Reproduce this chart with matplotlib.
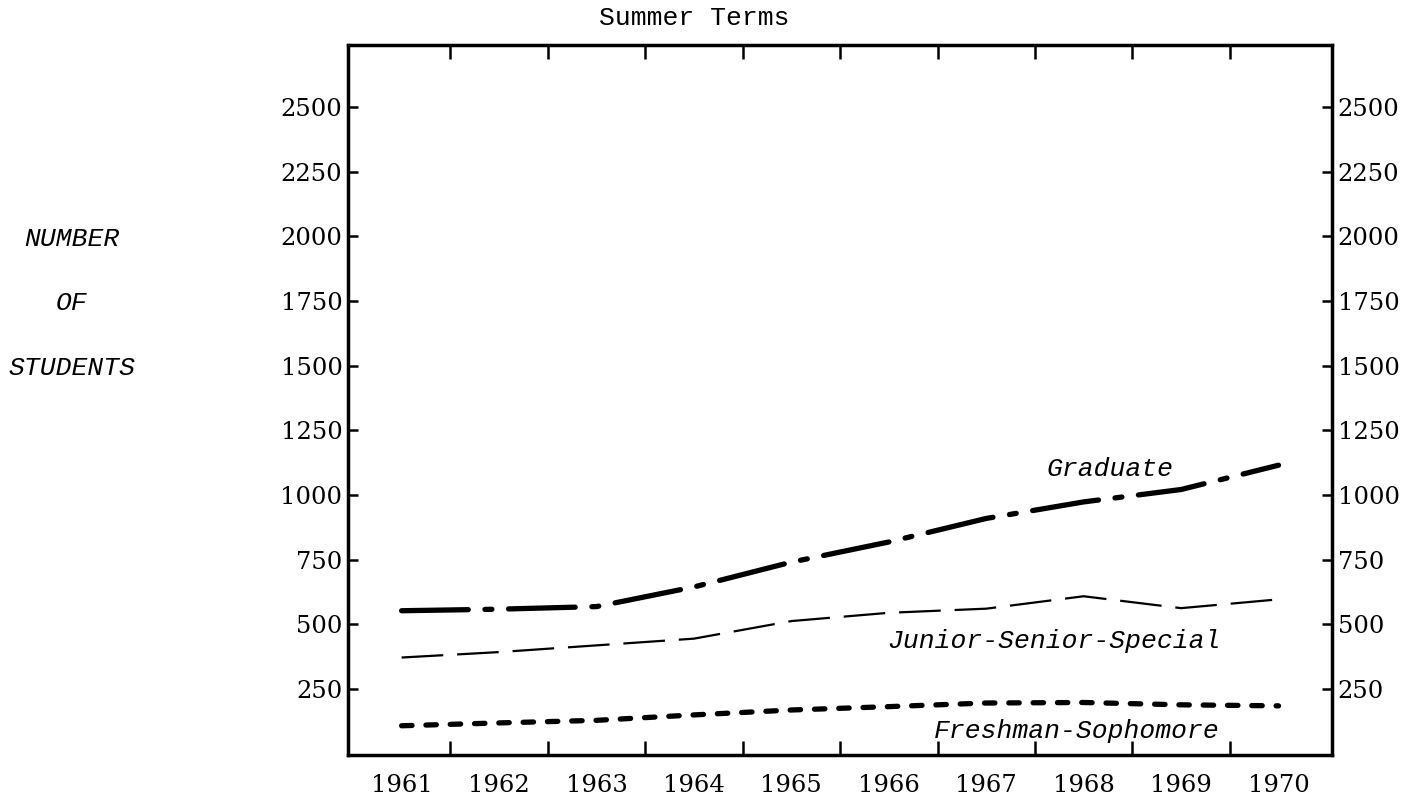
import numpy as np
import matplotlib
matplotlib.use("Agg")
import matplotlib.pyplot as plt

# values (summer term enrolment)
years = [1961, 1962, 1963, 1964, 1965, 1966, 1967, 1968, 1969, 1970]
graduate = [552, 558, 568, 644, 740, 818, 909, 973, 1021, 1115]
junior_senior = [371, 392, 418, 444, 512, 544, 560, 608, 562, 596]
freshman_soph = [107, 118, 128, 149, 168, 181, 195, 197, 188, 184]

y_ticks = [250, 500, 750, 1000, 1250, 1500, 1750, 2000, 2250, 2500]
half_years = [y + 0.5 for y in years[:-1]]

plt.rcParams['lines.scale_dashes'] = False

MONO = 'Liberation Mono'
NUM = 'DejaVu Serif'

fig = plt.figure(figsize=(14.2, 8.02), dpi=100)
ax = fig.add_axes([0.2451, 0.058, 0.693, 0.886])

# graduate: heavy dash-dot
ax.plot(years, graduate, color='black', lw=3.8, dash_capstyle='round',
        linestyle=(0, (48, 12, 5, 12)))
# junior-senior-special: thin long dashes
ax.plot(years, junior_senior, color='black', lw=1.6,
        linestyle=(0, (30, 10)))
# freshman-sophomore: heavy short dashes
ax.plot(years, freshman_soph, color='black', lw=3.8, dash_capstyle='round',
        linestyle=(0, (7.5, 10)))

ax.set_xlim(1960.45, 1970.55)
ax.set_ylim(-8, 2741)

ax.set_xticks(years)
ax.set_xticklabels([str(y) for y in years], fontfamily=NUM, fontsize=17.5)
ax.set_xticks(half_years, minor=True)
ax.tick_params(axis='x', which='major', length=0, pad=13)
ax.tick_params(axis='x', which='minor', direction='in', length=10, width=1.8,
               top=True, bottom=True)

ax.set_yticks(y_ticks)
ax.set_yticklabels([str(v) for v in y_ticks], fontfamily=NUM, fontsize=17.5)
ax.tick_params(axis='y', which='major', direction='in', length=7, width=1.8,
               left=True, right=True, labelleft=True, labelright=True, pad=4)

for sp in ax.spines.values():
    sp.set_linewidth(2.5)

# curve labels
lbl = dict(fontfamily=MONO, style='italic', fontsize=19, ha='center',
           va='baseline')
ax.text(1968.27, 1075, 'Graduate', **lbl)
ax.text(1967.69, 406, 'Junior-Senior-Special', **lbl)
ax.text(1967.93, 59, 'Freshman-Sophomore', **lbl)

# title and side label
fig.text(0.4887, 0.9688, 'Summer Terms', fontfamily=MONO, fontsize=19,
         ha='center', va='baseline')
for word, yy in [('NUMBER', 0.6933), ('OF', 0.6135), ('STUDENTS', 0.5324)]:
    fig.text(0.0507, yy, word, **lbl)

fig.savefig('out.png', dpi=100)
